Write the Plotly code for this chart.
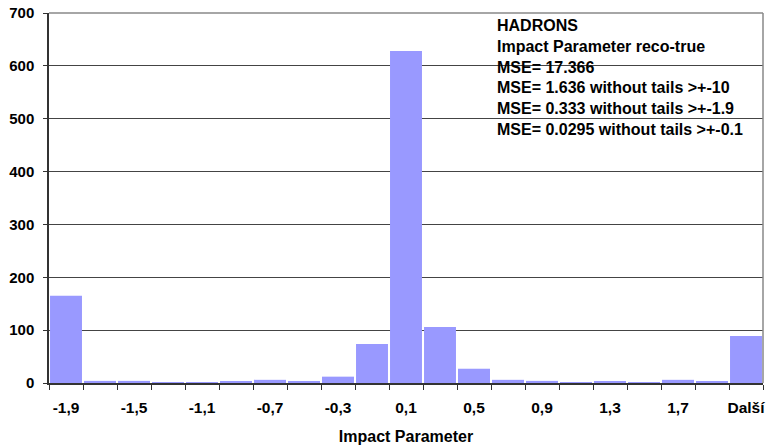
import plotly.graph_objects as go

categories = ["-1,9", "-1,7", "-1,5", "-1,3", "-1,1", "-0,9", "-0,7", "-0,5", "-0,3", "-0,1",
              "0,1", "0,3", "0,5", "0,7", "0,9", "1,1", "1,3", "1,5", "1,7", "1,9", "Další"]
counts = [165, 4, 4, 1, 1, 3, 6, 3, 12, 74, 628, 106, 27, 6, 4, 1, 3, 1, 6, 3, 89]
y_ticks = [0, 100, 200, 300, 400, 500, 600, 700]
info_lines = ["HADRONS", "Impact Parameter reco-true", "MSE= 17.366",
              "MSE= 1.636 without tails >+-10", "MSE= 0.333 without tails >+-1.9",
              "MSE= 0.0295 without tails >+-0.1"]

font = "Liberation Sans, Arial, sans-serif"
xpos = list(range(len(categories)))

fig = go.Figure()
fig.add_trace(go.Bar(x=xpos, y=counts, marker=dict(color="#9999FF", line=dict(width=0)),
                     width=0.94, showlegend=False))

fig.update_layout(
    width=766, height=448,
    margin=dict(l=49, r=3, t=13, b=65),
    paper_bgcolor="white", plot_bgcolor="white",
    font=dict(family=font, size=15, color="black"),
    xaxis=dict(
        range=[-0.5, len(categories) - 0.5],
        tickvals=xpos[::2], ticktext=categories[::2],
        ticks="", showgrid=False, zeroline=False, automargin=False,
        showline=True, linecolor="#333", linewidth=1.5, mirror=False,
        tickfont=dict(family=font, size=15.5, color="black", weight="bold"),
        ticklabelstandoff=10,
        minor=dict(tickvals=[i - 0.5 for i in range(len(categories) + 1)],
                   ticks="outside", ticklen=5, tickcolor="#333", tickwidth=1.3),
        title=dict(text="Impact Parameter", font=dict(family=font, size=16, weight="bold"),
                   standoff=15),
    ),
    yaxis=dict(
        range=[0, 700], tickvals=y_ticks, automargin=False,
        ticks="outside", ticklen=4, tickcolor="#333",
        showgrid=True, gridcolor="#444", gridwidth=1.2,
        zeroline=False, showline=True, linecolor="#333", linewidth=1.5,
        tickfont=dict(family=font, size=15, color="black", weight="bold"),
        ticklabelstandoff=6,
    ),
    shapes=[
        dict(type="line", xref="paper", yref="paper", x0=0, x1=1, y0=1, y1=1,
             line=dict(color="#888", width=1.5)),
        dict(type="line", xref="paper", yref="paper", x0=1, x1=1, y0=0, y1=1,
             line=dict(color="#888", width=1.5)),
    ],
)

fig.add_annotation(
    xref="paper", yref="paper", x=0.624, y=0.994, xanchor="left", yanchor="top",
    align="left", showarrow=False,
    text="<br>".join(info_lines),
    font=dict(family=font, size=16, color="black", weight="bold"),
)

fig.write_html("out.html", config={"displayModeBar": False},
               post_script="document.body.style.margin='0';document.body.style.overflow='hidden';")
